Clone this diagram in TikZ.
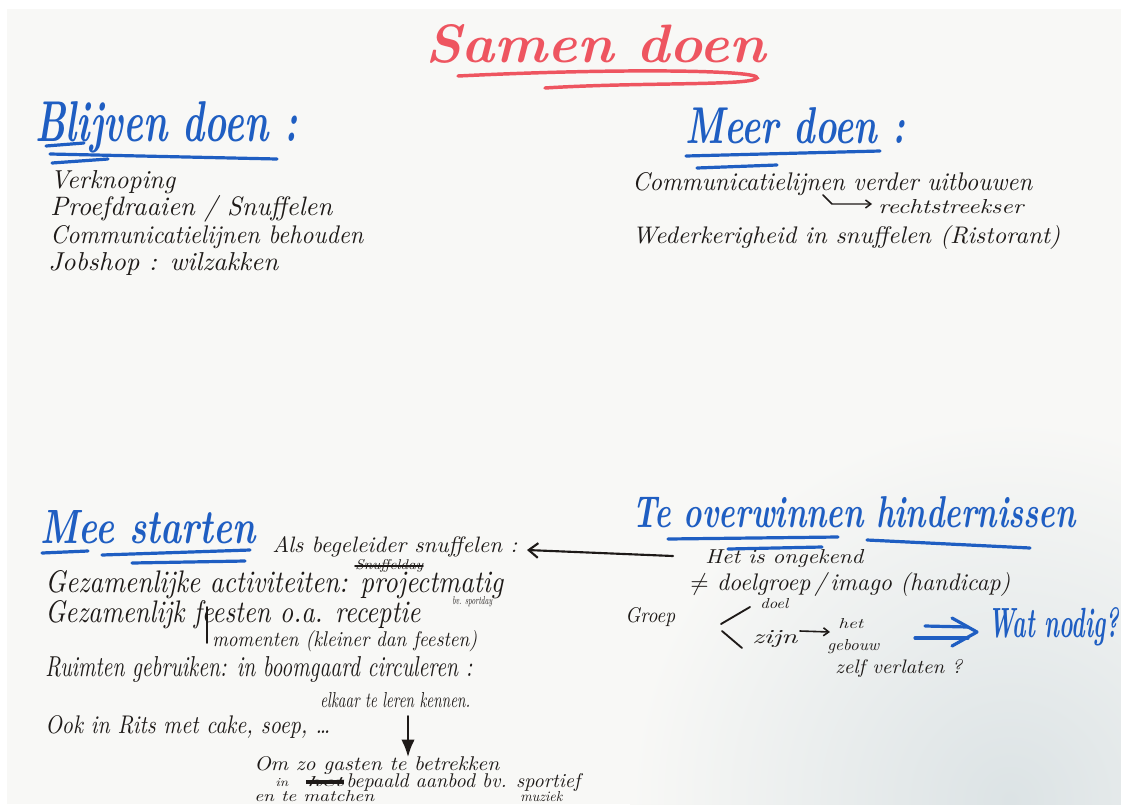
\documentclass[tikz,border=0pt]{standalone}
\usepackage{fontspec}
\usepackage{graphicx}
\usetikzlibrary{arrows.meta}
\newlength\pxu \setlength\pxu{0.75pt}
\newcommand\fw[2]{\resizebox{#1\pxu}{!}{#2}}
\newcommand\fwh[3]{\resizebox{#1\pxu}{#2\pxu}{#3}}
\definecolor{ink}{HTML}{1E1A18}
\definecolor{mblue}{HTML}{1F5EC2}
\definecolor{mred}{HTML}{EE5560}
\definecolor{board}{HTML}{F8F8F6}
\definecolor{shadow}{HTML}{DCE3E5}
\begin{document}
\begin{tikzpicture}[x=0.75pt,y=-0.75pt,
  txt/.style={inner sep=0pt, anchor=base west, text=ink, font=\itshape},
  btxt/.style={txt, text=mblue, font=\bfseries\itshape},
  rtxt/.style={txt, text=mred, font=\bfseries\itshape},
  ul/.style={draw=mblue, line width=2.4pt, line cap=round},
  pen/.style={draw=ink, line width=1.4pt, line cap=round},
  strike/.style={draw=ink, line width=1.2pt, line cap=round}]
\useasboundingbox (0,0) rectangle (1121,804);
% background
\fill[white] (0,0) rectangle (1121,804);
\fill[board] (7,9) rectangle (1121,804);
\begin{scope}
\clip (7,9) rectangle (1121,804);
\shade[inner color=shadow, outer color=board] (1010,800) circle (380);
\end{scope}

% title
\node[rtxt] (title) at (425,62) {\fwh{340}{38}{Samen doen}};
\draw[mred, line width=2.6pt, line cap=round] (458,76) .. controls (620,68) and (760,70) .. (757,78) .. controls (752,86) and (640,82) .. (545,88);

% Blijven doen
\node[btxt] (blijven) at (35,141) {\fwh{262}{40}{Blijven doen :}};
\draw[ul] (46,146) -- (84,143);
\draw[ul] (50,154) -- (277,159);
\draw[ul] (52,163) -- (108,159);
\node[txt] (verkn) at (50,188) {\fwh{125}{18}{Verknoping}};
\node[txt] (proef) at (50,215) {\fwh{282}{20}{Proefdraaien / Snuffelen}};
\node[txt] (commb) at (50,243) {\fwh{313}{18}{Communicatielijnen behouden}};
\node[txt] (jobs) at (48,270) {\fwh{230}{18}{Jobshop : wilzakken}};

% Meer doen
\node[btxt] (meer) at (685,143) {\fwh{220}{36}{Meer doen :}};
\draw[ul] (686,156) -- (880,151);
\draw[ul] (697,168) -- (777,165);
\node[txt] (commv) at (632,190) {\fwh{400}{18}{Communicatielijnen verder uitbouwen}};
\coordinate (hk1) at (823,195);
\coordinate (hk2) at (832,204);
\coordinate (hk3) at (872,204);
\node[txt] (recht) at (878,213) {\fwh{145}{14}{rechtstreekser}};
\draw[pen, line width=1.1pt, -{Straight Barb[length=4pt,width=6pt]}] (hk1) -- (hk2) -- (hk3);
\node[txt] (weder) at (632,243) {\fwh{428}{18}{Wederkerigheid in snuffelen (Ristorant)}};

% Mee starten
\node[btxt] (mee) at (40,543) {\fwh{215}{33}{Mee starten}};
\draw[ul] (42,553) -- (88,551);
\draw[ul] (102,555) -- (250,550);
\draw[ul] (132,563) -- (245,561);
\node[txt] (als) at (272,552) {\fwh{245}{16}{Als begeleider snuffelen :}};
\node[txt] (snuf) at (355,569) {\fwh{68}{10}{Snuffelday}};
\draw[strike] (355,566) -- (423,566);
\node[txt] (gez1) at (45,592) {\fwh{458}{22}{Gezamenlijke activiteiten: projectmatig}};
\node[txt] (bv1) at (452,604) {\fwh{40}{8}{bv. sportday}};
\node[txt] (gez2) at (45,622) {\fwh{375}{22}{Gezamenlijk feesten o.a. receptie}};
\draw[pen, line width=1.2pt] (207,607) -- (207,643);
\node[txt] (mom) at (212,646) {\fwh{265}{16}{momenten (kleiner dan feesten)}};
\node[txt] (ruim) at (45,676) {\fwh{427}{20}{Ruimten gebruiken: in boomgaard circuleren :}};
\node[txt] (elk) at (320,707) {\fwh{150}{15}{elkaar te leren kennen.}};
\node[txt] (ook) at (45,733) {\fwh{285}{18}{Ook in Rits met cake, soep, \dots}};
\coordinate (dn1) at (408,716);
\coordinate (dn2) at (408,757);
\draw[pen, -{Latex[length=13pt,width=10pt]}] (dn1) -- (dn2);
\node[txt] (omzo) at (254,770) {\fwh{245}{14}{Om zo gasten te betrekken}};
\node[txt] (in) at (275,786) {\fwh{13}{8}{in}};
\node[txt] (hetx) at (307,786) {\fwh{36}{10}{het}};
\draw[ink, line width=3pt] (306,782) -- (344,782);
\node[txt] (bep) at (346,787) {\fwh{234}{14}{bepaald aanbod bv. sportief}};
\node[txt] (en) at (254,801) {\fwh{120}{11}{en te matchen}};
\node[txt] (muz) at (520,801) {\fwh{42}{10}{muziek}};

% Te overwinnen hindernissen
\node[btxt] (te) at (632,527) {\fwh{443}{31}{Te overwinnen hindernissen}};
\draw[ul] (668,539) -- (838,537);
\draw[ul] (728,549) -- (822,547);
\draw[ul] (867,540) -- (1030,548);
\coordinate (la) at (673,556);
\coordinate (lb) at (527,550);
\draw[pen, line width=1.6pt, -{Straight Barb[length=7pt,width=11pt]}] (la) -- (lb);
\node[txt] (hetis) at (705,563) {\fwh{158}{14}{Het is ongekend}};
\node[txt] (neq) at (690,590) {\fwh{320}{18}{$\neq$ doelgroep\,/\,imago (handicap)}};
\node[txt] (groep) at (625,622) {\fwh{50}{15}{Groep}};
\draw[pen] (750,607) -- (721,624);
\draw[pen] (722,631) -- (742,648);
\node[txt] (doel) at (760,608) {\fwh{28}{10}{doel}};
\node[txt] (zijn) at (752,643) {\fwh{45}{13}{zijn}};
\coordinate (za) at (800,631);
\coordinate (zb) at (830,632);
\draw[pen, line width=1.2pt, -{Straight Barb[length=4pt,width=6pt]}] (za) -- (zb);
\node[txt] (hetg) at (838,628) {\fwh{25}{10}{het}};
\node[txt] (gebouw) at (827,650) {\fwh{52}{11}{gebouw}};
\node[txt] (zelf) at (835,673) {\fwh{127}{14}{zelf verlaten ?}};
% double arrow
\draw[ul] (925,626) -- (968,627);
\draw[ul] (915,638) -- (968,638);
\draw[ul, line join=round] (952,618) -- (977,632) -- (952,646);
\node[btxt] (wat) at (988,637) {\fwh{131}{30}{Wat nodig?}};
\end{tikzpicture}
\end{document}
